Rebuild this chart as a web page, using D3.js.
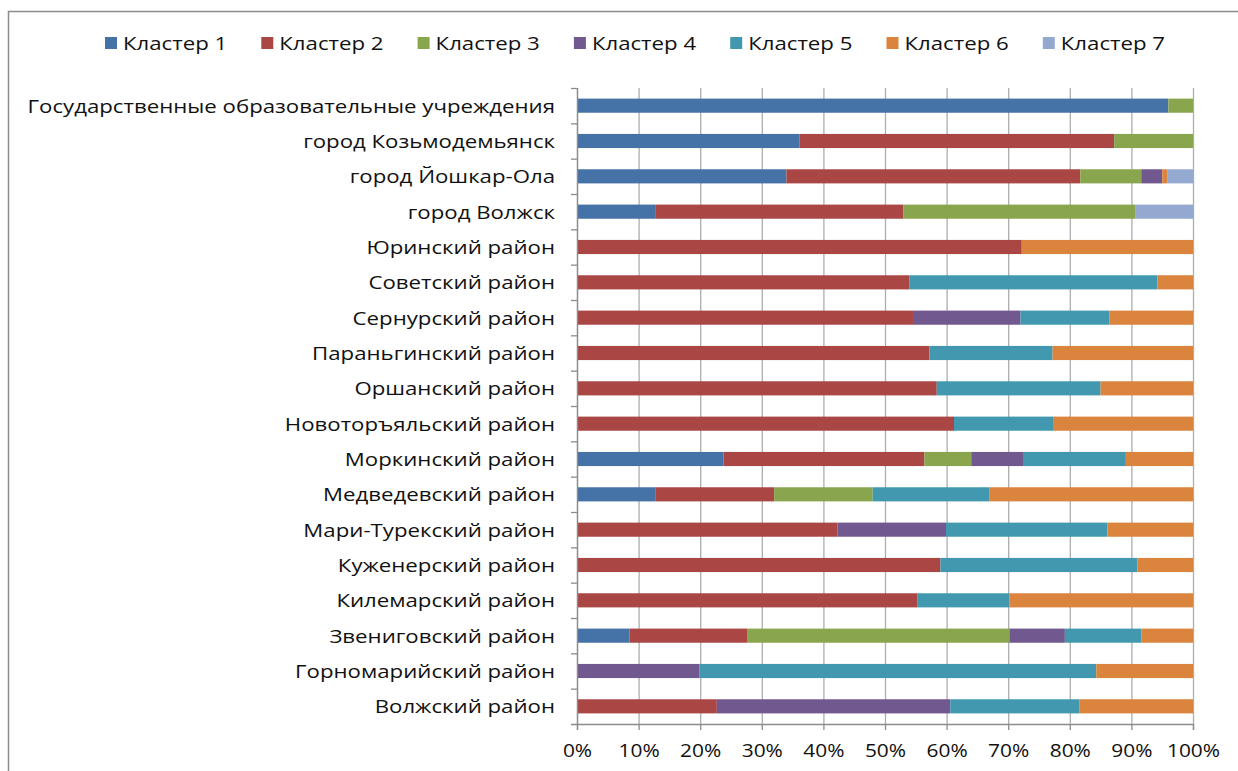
<!DOCTYPE html>
<html><head><meta charset="utf-8">
<script src="https://cdn.jsdelivr.net/npm/d3@7"></script>
<style>body{margin:0;background:#fff;} svg{display:block;}</style>
</head><body>
<svg id="c" width="1238" height="771"></svg>
<script>
const categories = ["Государственные образовательные учреждения","город Козьмодемьянск","город Йошкар-Ола","город Волжск","Юринский район","Советский район","Сернурский район","Параньгинский район","Оршанский район","Новоторъяльский район","Моркинский район","Медведевский район","Мари-Турекский район","Куженерский район","Килемарский район","Звениговский район","Горномарийский район","Волжский район"];
const seriesNames = ["Кластер 1","Кластер 2","Кластер 3","Кластер 4","Кластер 5","Кластер 6","Кластер 7"];
const cluster1 = [96.0,36.1,34.0,12.8,0,0,0,0,0,0,23.8,12.7,0,0,0,8.5,0,0];
const cluster2 = [0,51.1,47.7,40.2,72.2,54.0,54.7,57.2,58.4,61.2,32.6,19.3,42.3,59.0,55.3,19.1,0,22.7];
const cluster3 = [4.0,12.8,9.9,37.6,0,0,0,0,0,0,7.6,16.0,0,0,0,42.6,0,0];
const cluster4 = [0,0,3.4,0,0,0,17.3,0,0,0,8.4,0,17.6,0,0,9.0,19.9,37.9];
const cluster5 = [0,0,0,0,0,40.2,14.4,20.0,26.6,16.2,16.7,18.9,26.2,32.0,14.9,12.4,64.4,21.0];
const cluster6 = [0,0,0.8,0,27.8,5.8,13.6,22.8,15.0,22.6,10.9,33.1,13.9,9.0,29.8,8.4,15.7,18.4];
const cluster7 = [0,0,4.2,9.4,0,0,0,0,0,0,0,0,0,0,0,0,0,0];
const tickValues = [0,0.1,0.2,0.3,0.4,0.5,0.6,0.7,0.8,0.9,1];
const colors = ["#4572A7","#AA4643","#89A54E","#71588F","#4198AF","#DB843D","#93A9CF"];

const seriesVals = [cluster1,cluster2,cluster3,cluster4,cluster5,cluster6,cluster7];
const rows = categories.map((c,i)=>{
  const o={cat:c}; let tot=0;
  seriesNames.forEach((s,k)=>{o[s]=seriesVals[k][i]; tot+=seriesVals[k][i];});
  seriesNames.forEach(s=>o[s]=o[s]/tot);
  return o;
});
const stacked = d3.stack().keys(seriesNames)(rows);

const svg = d3.select("#c");
const font = "'Open Sans', sans-serif";
svg.append("rect").attr("x",8.5).attr("y",11.5).attr("width",1260).attr("height",800)
  .attr("fill","none").attr("stroke","#8c8c8c").attr("stroke-width",1.5);

const L=577,R=1193,T=88,B=724;
const x = d3.scaleLinear().domain([0,1]).range([L,R]);
const y = d3.scaleBand().domain(categories).range([T,B]).paddingInner(0.6).paddingOuter(0.3);

// gridlines
svg.append("g").selectAll("line").data(tickValues).join("line")
  .attr("x1",d=>x(d)+0.5).attr("x2",d=>x(d)+0.5).attr("y1",T).attr("y2",B)
  .attr("stroke","#adadad").attr("stroke-width",1.3);

// bars
svg.append("g").selectAll("g").data(stacked).join("g")
  .attr("fill",(d,i)=>colors[i])
  .selectAll("rect").data(d=>d).join("rect")
  .attr("x",d=>x(d[0])).attr("width",d=>Math.max(0,x(d[1])-x(d[0])))
  .attr("y",d=>y(d.data.cat)).attr("height",y.bandwidth());

// y axis
const yb = d3.scaleLinear().domain([0,categories.length]).range([T,B]);
svg.append("line").attr("x1",L+0.5).attr("x2",L+0.5).attr("y1",T).attr("y2",B).attr("stroke","#8c8c8c").attr("stroke-width",1.3);
svg.append("g").selectAll("line").data(d3.range(categories.length+1)).join("line")
  .attr("x1",L-6).attr("x2",L).attr("y1",d=>yb(d)+0.5).attr("y2",d=>yb(d)+0.5).attr("stroke","#8c8c8c").attr("stroke-width",1.3);
svg.append("g").selectAll("g").data(categories).join("g")
  .attr("transform",d=>`translate(555,${y(d)+y.bandwidth()/2}) scale(1.17,1)`)
  .append("text").attr("dy","0.36em")
  .attr("text-anchor","end").attr("font-family",font).attr("font-size",19).attr("fill","#111")
  .text(d=>d);

// x axis
const xa = svg.append("g").attr("transform",`translate(0,${B})`)
  .call(d3.axisBottom(x).tickValues(tickValues).tickFormat(d3.format(".0%")).tickSize(6).tickPadding(14));
xa.select(".domain").attr("stroke","#8c8c8c").attr("stroke-width",1.3);
xa.selectAll(".tick line").attr("stroke","#8c8c8c").attr("stroke-width",1.3);
xa.selectAll("text").attr("font-family",font).attr("font-size",19).attr("fill","#111")
  .attr("transform","scale(1.1,1)");
svg.append("line").attr("x1",L-6).attr("x2",L).attr("y1",B+0.5).attr("y2",B+0.5).attr("stroke","#8c8c8c").attr("stroke-width",1.3);

// legend
const lg = svg.append("g").selectAll("g").data(seriesNames).join("g")
  .attr("transform",(d,i)=>`translate(${105+i*156.3},43)`);
lg.append("rect").attr("x",0).attr("y",-6).attr("width",12).attr("height",12).attr("fill",(d,i)=>colors[i]);
lg.append("text").attr("x",18).attr("y",0).attr("dy","0.36em").attr("font-family",font).attr("font-size",19).attr("fill","#111")
  .attr("transform","scale(1.17,1)").attr("x",18/1.17).text(d=>d);
</script>
</body></html>
